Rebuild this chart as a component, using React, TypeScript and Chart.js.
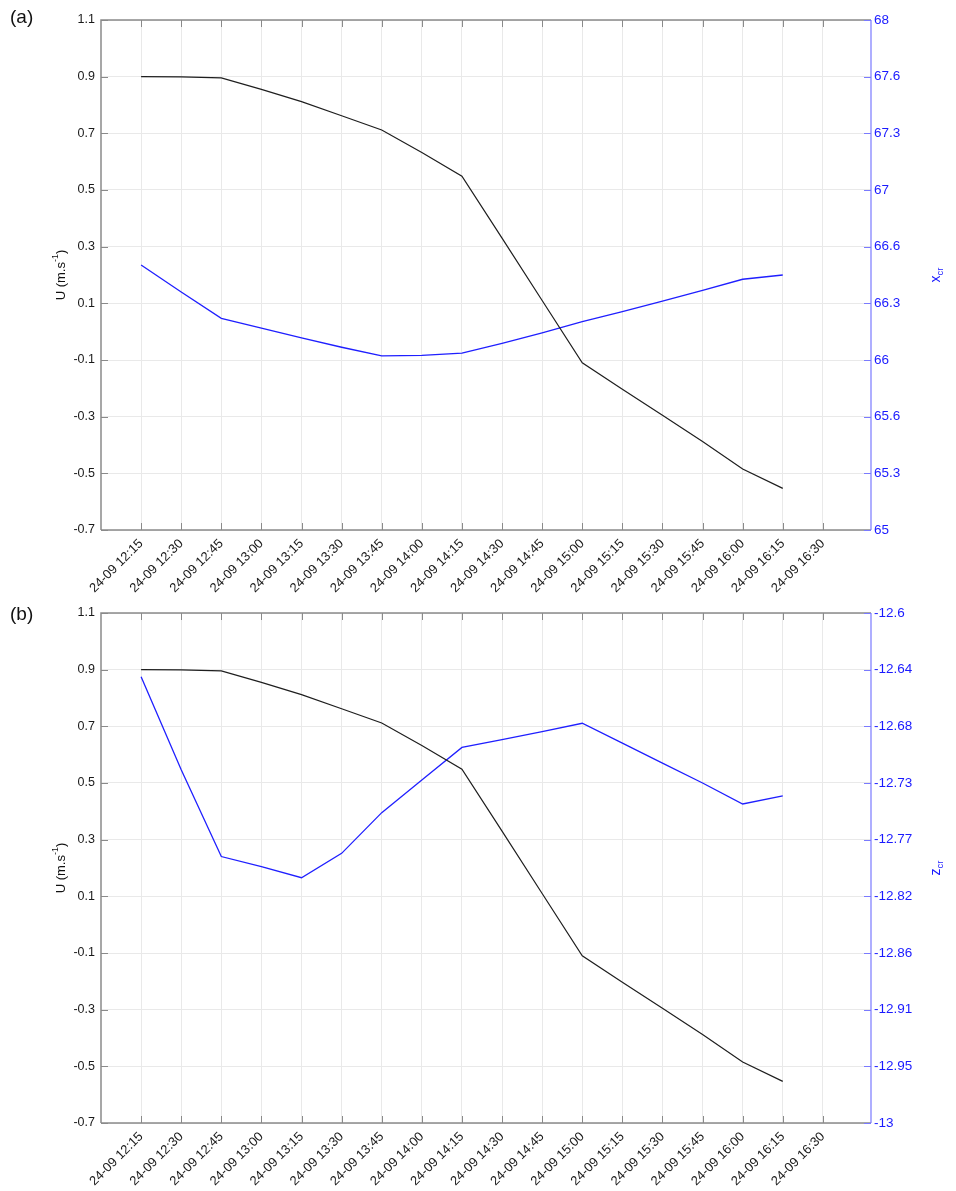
import React, { useEffect, useRef } from 'react';
import { Chart, registerables } from 'chart.js';

Chart.register(...registerables);

// ---------- data ----------
const timeLabels = [
  '12:15', '12:30', '12:45', '13:00', '13:15', '13:30', '13:45', '14:00', '14:15',
  '14:30', '14:45', '15:00', '15:15', '15:30', '15:45', '16:00', '16:15',
];

const uValues = [
  0.9, 0.899, 0.896, 0.855, 0.812, 0.762, 0.712, 0.632, 0.549,
  0.33, 0.11, -0.11, -0.203, -0.295, -0.388, -0.485, -0.553,
];

const xcrValues = [
  66.559, 66.4, 66.245, 66.188, 66.13, 66.075, 66.024, 66.027, 66.041,
  66.098, 66.16, 66.226, 66.285, 66.347, 66.41, 66.475, 66.5,
];

const zcrValues = [
  -12.65, -12.723, -12.791, -12.799, -12.8076, -12.7885, -12.7566, -12.731, -12.7054,
  -12.6994, -12.693, -12.6865, -12.702, -12.7177, -12.7333, -12.7498, -12.7435,
];

const xTickLabels = [
  '24-09 12:15', '24-09 12:30', '24-09 12:45', '24-09 13:00', '24-09 13:15', '24-09 13:30',
  '24-09 13:45', '24-09 14:00', '24-09 14:15', '24-09 14:30', '24-09 14:45', '24-09 15:00',
  '24-09 15:15', '24-09 15:30', '24-09 15:45', '24-09 16:00', '24-09 16:15', '24-09 16:30',
];

const uTickLabels = ['-0.7', '-0.5', '-0.3', '-0.1', '0.1', '0.3', '0.5', '0.7', '0.9', '1.1'];
const uMin = -0.7;
const uMax = 1.1;

const xcrTickLabels = ['65', '65.3', '65.6', '66', '66.3', '66.6', '67', '67.3', '67.6', '68'];
const xcrMin = 65;
const xcrMax = 68;

const zcrTickLabels = ['-13', '-12.95', '-12.91', '-12.86', '-12.82', '-12.77', '-12.73', '-12.68', '-12.64', '-12.6'];
const zcrMin = -13;
const zcrMax = -12.6;

// time axis range (minutes after 12:00)
const xMinLabel = '12:00';
const xMaxLabel = '16:48';

// ---------- helpers ----------
const toMin = (s: string) => {
  const hm = s.split(' ').pop() as string;
  const [h, m] = hm.split(':').map(Number);
  return (h - 12) * 60 + m;
};
const linspace = (a: number, b: number, n: number) =>
  Array.from({ length: n }, (_, i) => a + ((b - a) * i) / (n - 1));

const FONT = "'Liberation Sans', Arial, sans-serif";
const W = 956;

const axesPlugin = {
  id: 'matlabAxes',
  afterDraw(chart: any, _args: any, opts: any) {
    const { ctx, chartArea } = chart;
    const { left, right, top, bottom } = chartArea;
    const xs = chart.scales.x;
    const ys = chart.scales.y;
    const y1 = chart.scales.y1;
    const TL = 7;
    ctx.save();
    // gray box
    ctx.strokeStyle = '#8a8a8a';
    ctx.lineWidth = 1.5;
    ctx.beginPath();
    ctx.moveTo(left, bottom);
    ctx.lineTo(left, top);
    ctx.lineTo(right, top);
    ctx.moveTo(left, bottom);
    ctx.lineTo(right, bottom);
    ctx.stroke();
    ctx.lineWidth = 1;
    ctx.beginPath();
    xs.ticks.forEach((t: any) => {
      const px = Math.round(xs.getPixelForValue(t.value)) + 0.5;
      ctx.moveTo(px, bottom);
      ctx.lineTo(px, bottom - TL);
      ctx.moveTo(px, top);
      ctx.lineTo(px, top + TL);
    });
    ys.ticks.forEach((t: any) => {
      const py = Math.round(ys.getPixelForValue(t.value)) + 0.5;
      ctx.moveTo(left, py);
      ctx.lineTo(left + TL, py);
    });
    ctx.stroke();
    // blue right axis
    ctx.strokeStyle = '#7a7aff';
    ctx.lineWidth = 1.2;
    ctx.beginPath();
    ctx.moveTo(right, top);
    ctx.lineTo(right, bottom);
    y1.ticks.forEach((t: any) => {
      const py = Math.round(y1.getPixelForValue(t.value)) + 0.5;
      ctx.moveTo(right, py);
      ctx.lineTo(right - TL, py);
    });
    ctx.stroke();

    const midY = (top + bottom) / 2;
    // left title: U (m.s^-1)
    ctx.save();
    ctx.translate(opts.leftTitleX, midY);
    ctx.rotate(-Math.PI / 2);
    ctx.fillStyle = '#111';
    ctx.textBaseline = 'middle';
    ctx.textAlign = 'left';
    const big = `13px ${FONT}`;
    const small = `9px ${FONT}`;
    ctx.font = big;
    const p1 = 'U (m.s';
    const p3 = ')';
    const w1 = ctx.measureText(p1).width;
    const w3 = ctx.measureText(p3).width;
    ctx.font = small;
    const p2 = '-1';
    const w2 = ctx.measureText(p2).width;
    let sx = -(w1 + w2 + w3) / 2;
    ctx.font = big;
    ctx.fillText(p1, sx, 0);
    sx += w1;
    ctx.font = small;
    ctx.fillText(p2, sx, -5);
    sx += w2;
    ctx.font = big;
    ctx.fillText(p3, sx, 0);
    ctx.restore();

    // right title: x_cr / z_cr
    ctx.save();
    ctx.translate(opts.rightTitleX, midY);
    ctx.rotate(-Math.PI / 2);
    ctx.fillStyle = '#1a1aff';
    ctx.textBaseline = 'middle';
    ctx.textAlign = 'left';
    ctx.font = `14px ${FONT}`;
    const r1 = opts.rightTitle;
    const rw1 = ctx.measureText(r1).width;
    ctx.font = `9.5px ${FONT}`;
    const r2 = opts.rightSub;
    const rw2 = ctx.measureText(r2).width;
    let rx = -(rw1 + rw2) / 2;
    ctx.font = `14px ${FONT}`;
    ctx.fillText(r1, rx, 0);
    rx += rw1;
    ctx.font = `9.5px ${FONT}`;
    ctx.fillText(r2, rx, 4);
    ctx.restore();

    // panel label
    ctx.fillStyle = '#111';
    ctx.font = `19px ${FONT}`;
    ctx.textBaseline = 'middle';
    ctx.textAlign = 'left';
    ctx.fillText(opts.panelLabel, 10, opts.panelLabelY);
    ctx.restore();
  },
};

type PanelProps = {
  height: number;
  padTop: number;
  xHeight: number;
  rightValues: number[];
  rightMin: number;
  rightMax: number;
  rightTickLabels: string[];
  rightTitle: string;
  rightSub: string;
  panelLabel: string;
  panelLabelY: number;
};

function Panel(p: PanelProps) {
  const ref = useRef<HTMLCanvasElement | null>(null);
  useEffect(() => {
    if (!ref.current) return;
    const xVals = timeLabels.map(toMin);
    const xTickVals = xTickLabels.map(toMin);
    const uTickVals = linspace(uMin, uMax, uTickLabels.length);
    const rTickVals = linspace(p.rightMin, p.rightMax, p.rightTickLabels.length);
    const chart = new Chart(ref.current, {
      type: 'line',
      data: {
        datasets: [
          {
            data: xVals.map((x, i) => ({ x, y: uValues[i] })),
            borderColor: '#1e1e1e',
            borderWidth: 1.2,
            pointRadius: 0,
            tension: 0,
            yAxisID: 'y',
          },
          {
            data: xVals.map((x, i) => ({ x, y: p.rightValues[i] })),
            borderColor: '#1f1fff',
            borderWidth: 1.3,
            pointRadius: 0,
            tension: 0,
            yAxisID: 'y1',
          },
        ],
      },
      options: {
        responsive: false,
        animation: false,
        layout: { padding: { top: p.padTop, left: 0, right: 0, bottom: 0 } },
        plugins: {
          legend: { display: false },
          tooltip: { enabled: false },
          matlabAxes: {
            leftTitleX: 61,
            rightTitleX: 936,
            rightTitle: p.rightTitle,
            rightSub: p.rightSub,
            panelLabel: p.panelLabel,
            panelLabelY: p.panelLabelY,
          },
        } as any,
        scales: {
          x: {
            type: 'linear',
            min: toMin(xMinLabel),
            max: toMin(xMaxLabel),
            afterBuildTicks: (s: any) => {
              s.ticks = xTickVals.map((v) => ({ value: v }));
            },
            afterFit: (s: any) => {
              s.height = p.xHeight;
            },
            grid: { color: '#e9e9e9', lineWidth: 1, drawTicks: false },
            border: { display: false },
            ticks: {
              autoSkip: false,
              minRotation: 45,
              maxRotation: 45,
              padding: 6,
              color: '#1a1a1a',
              font: { family: FONT, size: 13 },
              callback: (_v: any, i: number) => xTickLabels[i],
            },
          },
          y: {
            type: 'linear',
            position: 'left',
            min: uMin,
            max: uMax,
            afterBuildTicks: (s: any) => {
              s.ticks = uTickVals.map((v) => ({ value: v }));
            },
            afterFit: (s: any) => {
              s.width = 101;
            },
            grid: { color: '#e9e9e9', lineWidth: 1, drawTicks: false },
            border: { display: false },
            ticks: {
              padding: 6,
              color: '#1a1a1a',
              font: { family: FONT, size: 12.5 },
              callback: (_v: any, i: number) => uTickLabels[i],
            },
          },
          y1: {
            type: 'linear',
            position: 'right',
            min: p.rightMin,
            max: p.rightMax,
            afterBuildTicks: (s: any) => {
              s.ticks = rTickVals.map((v) => ({ value: v }));
            },
            afterFit: (s: any) => {
              s.width = 85;
            },
            grid: { display: false, drawTicks: false },
            border: { display: false },
            ticks: {
              padding: 3,
              color: '#1a1aff',
              font: { family: FONT, size: 13.5 },
              callback: (_v: any, i: number) => p.rightTickLabels[i],
            },
          },
        },
      },
      plugins: [axesPlugin],
    } as any);
    return () => chart.destroy();
  }, []);
  return <canvas ref={ref} width={W} height={p.height} style={{ display: 'block', width: W, height: p.height }} />;
}

export default function App() {
  return (
    <div style={{ position: 'absolute', left: 0, top: 0, width: W, height: 1191, background: '#fff' }}>
      <Panel
        height={596}
        padTop={20}
        xHeight={66}
        rightValues={xcrValues}
        rightMin={xcrMin}
        rightMax={xcrMax}
        rightTickLabels={xcrTickLabels}
        rightTitle="x"
        rightSub="cr"
        panelLabel="(a)"
        panelLabelY={18}
      />
      <Panel
        height={595}
        padTop={17}
        xHeight={68}
        rightValues={zcrValues}
        rightMin={zcrMin}
        rightMax={zcrMax}
        rightTickLabels={zcrTickLabels}
        rightTitle="z"
        rightSub="cr"
        panelLabel="(b)"
        panelLabelY={19}
      />
    </div>
  );
}
